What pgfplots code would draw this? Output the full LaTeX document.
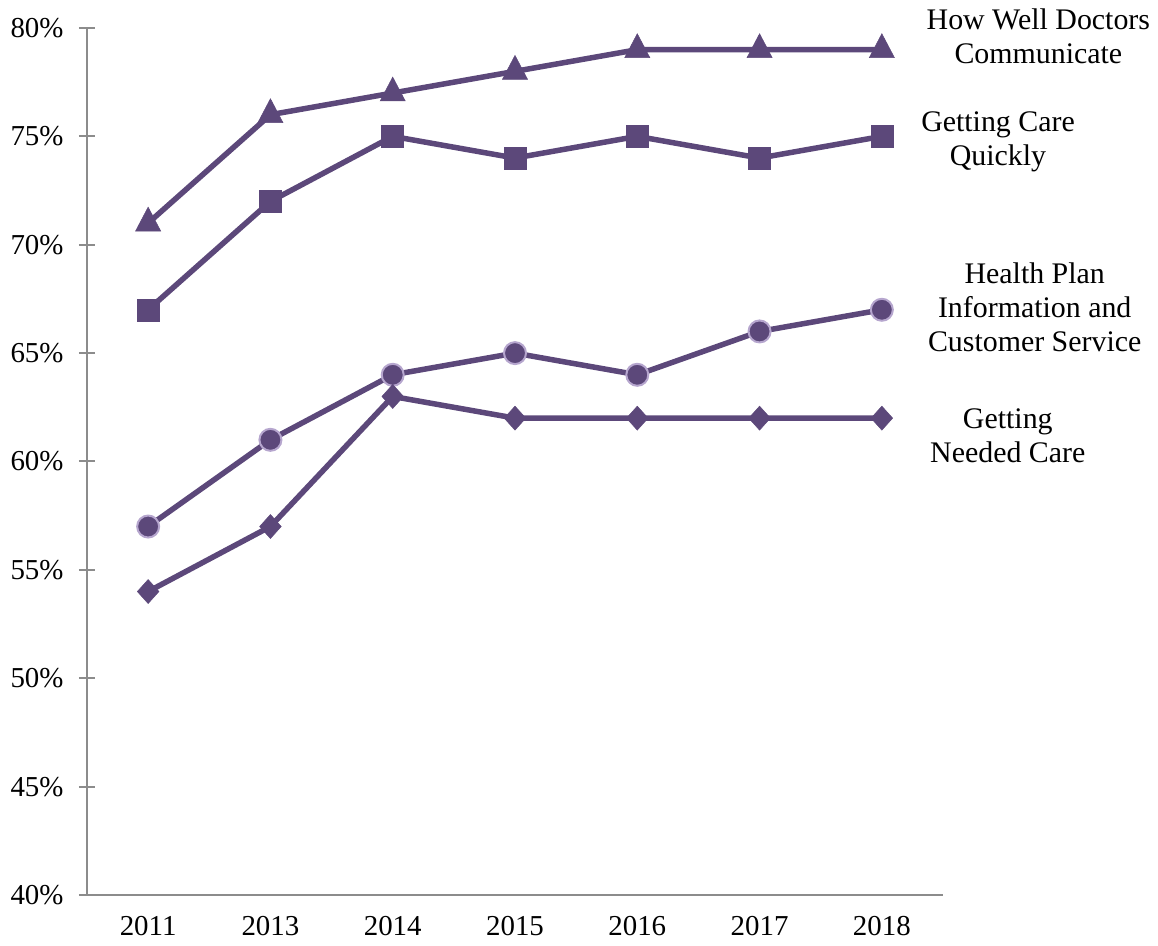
\documentclass[border=0pt]{standalone}
\usepackage{fontspec}
\setmainfont{Liberation Serif}
\usepackage{pgfplots}
\pgfplotsset{compat=1.18}

\definecolor{plum}{RGB}{92,72,122}
\definecolor{plumedge}{RGB}{182,166,206}
\definecolor{axisgray}{RGB}{140,140,140}

\begin{document}
\begin{tikzpicture}
\path[use as bounding box] (0,0) rectangle (1158bp,946bp);
\begin{axis}[
  at={(87bp,51bp)}, anchor=south west,
  scale only axis, width=856bp, height=867bp,
  xmin=-0.5, xmax=6.5, ymin=40, ymax=80,
  axis x line*=bottom, axis y line*=left,
  axis line style={axisgray, line width=2bp},
  xtick={0,...,6},
  xticklabels={2011,2013,2014,2015,2016,2017,2018},
  ytick={40,45,...,80},
  yticklabels={40\%,45\%,50\%,55\%,60\%,65\%,70\%,75\%,80\%},
  xtick style={draw=none},
  ytick style={axisgray, line width=2bp},
  tick align=center, major tick length=16bp,
  ticklabel style={font=\fontsize{29}{34}\selectfont, black},
  yticklabel style={xshift=-12bp},
  xticklabel style={yshift=-10bp},
  clip=false,
  every axis plot/.append style={plum, line width=5.5bp},
]
\addplot[mark=triangle*, mark size=14.5bp, mark options={fill=plum, draw=plum, line width=0.5bp, yscale=1.1}]
  coordinates {(0,71) (1,76) (2,77) (3,78) (4,79) (5,79) (6,79)};
\addplot[mark=square*, mark size=11bp, mark options={fill=plum, draw=plum, line width=0.5bp}]
  coordinates {(0,67) (1,72) (2,75) (3,74) (4,75) (5,74) (6,75)};
\addplot[mark=*, mark size=11bp, mark options={fill=plum, draw=plumedge, line width=2bp}]
  coordinates {(0,57) (1,61) (2,64) (3,65) (4,64) (5,66) (6,67)};
\addplot[mark=diamond*, mark size=12bp, mark options={fill=plum, draw=plum, line width=0.5bp, xscale=1.2}]
  coordinates {(0,54) (1,57) (2,63) (3,62) (4,62) (5,62) (6,62)};

\begin{scope}[every node/.style={align=center, font=\fontsize{30}{34}\selectfont, inner sep=0pt}]
\node at (axis cs:7.28,79.63) {How Well Doctors\\Communicate};
\node at (axis cs:6.95,74.74) {Getting Care\\Quickly};
\node at (axis cs:7.25,67.13) {Health Plan\\Information and\\Customer Service};
\node at (axis cs:7.03,61.2) {Getting\\Needed Care};
\end{scope}
\end{axis}
\end{tikzpicture}
\end{document}
